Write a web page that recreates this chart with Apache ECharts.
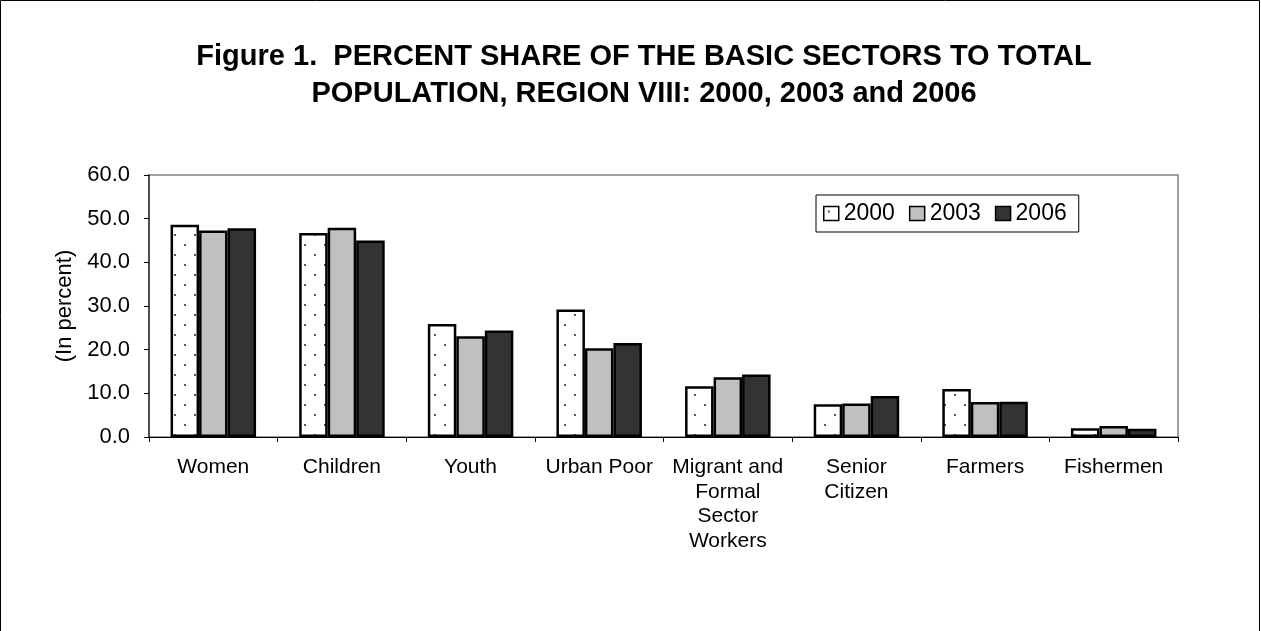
<!DOCTYPE html>
<html>
<head>
<meta charset="utf-8">
<script src="https://cdn.jsdelivr.net/npm/echarts@6/dist/echarts.min.js"></script>
<style>html,body{margin:0;padding:0;background:#fff}#c{width:1261px;height:631px}</style>
</head>
<body>
<div id="c"></div>
<script>
const titleLine1 = 'Figure 1.  PERCENT SHARE OF THE BASIC SECTORS TO TOTAL';
const titleLine2 = 'POPULATION, REGION VIII: 2000, 2003 and 2006';
const categories = ['Women', 'Children', 'Youth', 'Urban Poor', 'Migrant and\nFormal\nSector\nWorkers', 'Senior\nCitizen', 'Farmers', 'Fishermen'];
const years = ['2000', '2003', '2006'];
const values2000 = [48.6, 46.7, 25.9, 29.2, 11.6, 7.5, 11.0, 2.0];
const values2003 = [47.3, 47.9, 23.1, 20.3, 13.7, 7.7, 8.0, 2.5];
const values2006 = [47.8, 45.0, 24.4, 21.5, 14.3, 9.4, 8.1, 1.9];
const yTicks = [0, 10, 20, 30, 40, 50, 60];

// dotted fill for 2000
const pc = document.createElement('canvas');
pc.width = 20; pc.height = 20;
const pctx = pc.getContext('2d');
pctx.fillStyle = '#ffffff'; pctx.fillRect(0, 0, 20, 20);
pctx.fillStyle = '#555555';
pctx.fillRect(4, 4, 2, 2);
pctx.fillRect(14, 14, 2, 2);

const fills = [{ image: pc, repeat: 'repeat' }, '#c0c0c0', '#333333'];
const seriesData = [values2000, values2003, values2006];

const chart = echarts.init(document.getElementById('c'));
const font = 'Liberation Sans, Arial, sans-serif';
const titleStyle = { fontFamily: font, fontSize: 29, fontWeight: 'bold', color: '#000', lineHeight: 32 };
chart.setOption({
  animation: false,
  backgroundColor: '#ffffff',
  title: [
    { text: titleLine1, left: 644, top: 41, padding: 0, textAlign: 'center', textStyle: titleStyle },
    { text: titleLine2, left: 644, top: 78, padding: 0, textAlign: 'center', textStyle: titleStyle }
  ],
  legend: {
    data: years,
    left: 816,
    top: 195,
    padding: [7, 12, 7, 7],
    itemGap: 14,
    itemWidth: 15,
    itemHeight: 14,
    icon: 'rect',
    borderColor: '#000',
    borderWidth: 1,
    backgroundColor: '#fff',
    itemStyle: { borderColor: '#000', borderWidth: 1.5 },
    textStyle: { fontFamily: font, fontSize: 23, color: '#000' }
  },
  graphic: [{
    type: 'rect',
    shape: { x: 0.5, y: 0.5, width: 1259, height: 700 },
    style: { fill: null, stroke: '#000', lineWidth: 1 },
    silent: true
  }],
  grid: {
    left: 149, top: 175, width: 1029, height: 262,
    show: true, borderColor: '#808080', borderWidth: 1.5
  },
  xAxis: {
    type: 'category',
    data: categories,
    axisLine: { lineStyle: { color: '#000', width: 1 } },
    axisTick: { show: true, length: 5, lineStyle: { color: '#000' } },
    axisLabel: { interval: 0, margin: 18, fontFamily: font, fontSize: 21, color: '#000', lineHeight: 24.5 }
  },
  yAxis: {
    type: 'value',
    min: 0, max: 60, interval: 10,
    name: '(In percent)',
    nameLocation: 'middle',
    nameRotate: 90,
    nameGap: 72,
    nameTextStyle: { fontFamily: font, fontSize: 22, color: '#000' },
    axisLine: { show: true, lineStyle: { color: '#333', width: 1.5 } },
    axisTick: { show: true, length: 5, lineStyle: { color: '#000' } },
    splitLine: { show: false },
    axisLabel: {
      fontFamily: font, fontSize: 22, color: '#000', margin: 19,
      formatter: v => yTicks.includes(v) ? v.toFixed(1) : ''
    }
  },
  series: years.map((y, i) => ({
    name: y,
    type: 'bar',
    data: seriesData[i],
    barWidth: 28.5,
    barGap: '0%',
    itemStyle: { color: fills[i], borderColor: '#000', borderWidth: 2.5 }
  }))
});
</script>
</body>
</html>
